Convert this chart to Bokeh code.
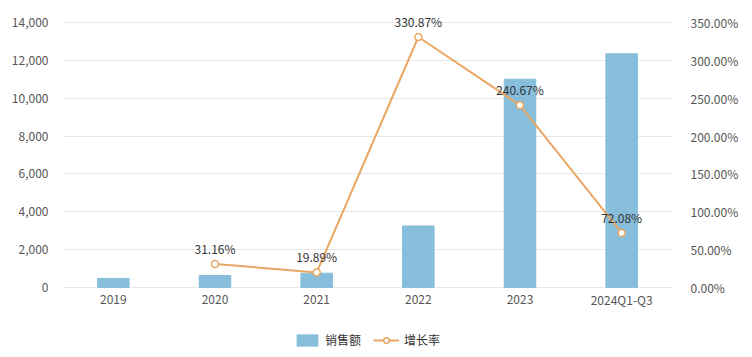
from bokeh.plotting import figure
from bokeh.models import (Range1d, LinearAxis, FixedTicker, NumeralTickFormatter,
                          PrintfTickFormatter, ColumnDataSource, Legend, LegendItem,
                          FactorRange, LabelSet)
from bokeh.core.properties import value
from bokeh.embed import file_html
from bokeh.resources import INLINE

categories = ["2019", "2020", "2021", "2022", "2023", "2024Q1-Q3"]
sales = [480, 630, 755, 3250, 11000, 12350]
growth_cats = ["2020", "2021", "2022", "2023", "2024Q1-Q3"]
growth = [31.16, 19.89, 330.87, 240.67, 72.08]
growth_labels = ["31.16%", "19.89%", "330.87%", "240.67%", "72.08%"]
left_ticks = [0, 2000, 4000, 6000, 8000, 10000, 12000, 14000]
right_ticks = [0, 50, 100, 150, 200, 250, 300, 350]
left_max = 14000
right_max = 350

FONT = "Noto Sans CJK SC"
BAR = "#86bedc"
LINE = "#e9a664"

# frame covers the axis area plus room above (labels) and below (category labels, legend)
AXIS_H = 265
HEAD = 16
FOOT = 63
top_f = (AXIS_H + HEAD) / AXIS_H
bot_f = FOOT / AXIS_H

p = figure(x_range=FactorRange(*categories),
           y_range=Range1d(-left_max * bot_f, left_max * top_f),
           frame_width=610, frame_height=AXIS_H + HEAD + FOOT, output_backend="svg",
           toolbar_location=None,
           min_border_left=62, min_border_right=78, min_border_top=22 - HEAD,
           min_border_bottom=3)
p.extra_y_ranges = {"pct": Range1d(-right_max * bot_f, right_max * top_f)}
p.outline_line_color = None
p.background_fill_color = "white"

p.xgrid.grid_line_color = None
p.ygrid.grid_line_color = "#e8e8e8"
p.ygrid.ticker = FixedTicker(ticks=left_ticks)

bar_src = ColumnDataSource(dict(x=categories, y=sales))
bars = p.vbar(x="x", top="y", bottom=0, width=0.31, source=bar_src, color=BAR)

line_src = ColumnDataSource(dict(x=growth_cats, y=growth, t=growth_labels))
ln = p.line(x="x", y="y", source=line_src, y_range_name="pct", line_color=LINE, line_width=2)
pts = p.scatter(x="x", y="y", source=line_src, y_range_name="pct", size=7,
                fill_color="white", line_color=LINE, line_width=1.5)
labels = LabelSet(x="x", y="y", text="t", source=line_src, y_range_name="pct",
                  y_offset=7, text_align="center", text_baseline="bottom",
                  text_font=value(FONT), text_font_size=value("12px"),
                  text_color="#333333")
p.add_layout(labels)

# category labels (x axis)
cat_src = ColumnDataSource(dict(x=categories, y=[0] * len(categories), t=categories))
cat_labels = LabelSet(x="x", y="y", text="t", source=cat_src, y_offset=-12,
                      text_align="center", text_baseline="middle",
                      text_font=value(FONT), text_font_size=value("12px"),
                      text_color="#555555")
p.add_layout(cat_labels)
p.xaxis.visible = False

p.yaxis.ticker = FixedTicker(ticks=left_ticks)
p.yaxis.formatter = NumeralTickFormatter(format="0,0")
p.yaxis.axis_line_color = None
p.yaxis.major_tick_line_color = None
p.yaxis.minor_tick_line_color = None
p.yaxis.major_label_text_font = FONT
p.yaxis.major_label_text_font_size = "12px"
p.yaxis.major_label_text_color = "#555555"
p.yaxis.major_label_standoff = 8

raxis = LinearAxis(y_range_name="pct", ticker=FixedTicker(ticks=right_ticks),
                   formatter=PrintfTickFormatter(format="%.2f%%"))
raxis.axis_line_color = None
raxis.major_tick_line_color = None
raxis.minor_tick_line_color = None
raxis.major_label_text_font = FONT
raxis.major_label_text_font_size = "12px"
raxis.major_label_text_color = "#555555"
raxis.major_label_standoff = 12
p.add_layout(raxis, "right")

legend = Legend(items=[LegendItem(label="销售额", renderers=[bars]),
                       LegendItem(label="增长率", renderers=[ln, pts])],
                orientation="horizontal", location=(232, 2))
legend.border_line_color = None
legend.background_fill_alpha = 0
legend.label_text_font = FONT
legend.label_text_font_size = "12px"
legend.label_text_color = "#333333"
legend.glyph_width = 26
legend.glyph_height = 14
legend.spacing = 12
legend.label_standoff = 5
legend.margin = 0
legend.padding = 4
p.add_layout(legend, "center")

open("out.html", "w").write(file_html(p, INLINE))
